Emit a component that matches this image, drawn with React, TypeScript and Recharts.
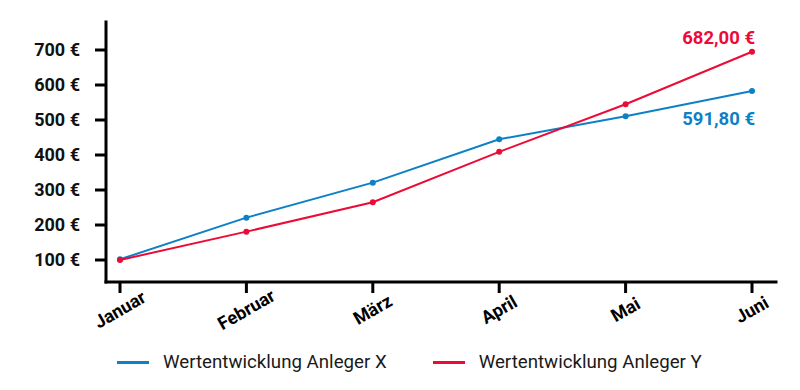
import { LineChart, Line, XAxis, YAxis, Legend, LabelList } from "recharts";

const months = ["Januar", "Februar", "März", "April", "Mai", "Juni"];
const anlegerX = [102, 221, 321, 445, 511, 583];
const anlegerY = [100, 181, 265, 409, 545, 695];
const yTicks = [100, 200, 300, 400, 500, 600, 700];
const endLabelX = "591,80 €";
const endLabelY = "682,00 €";

const BLUE = "#0d80c6";
const RED = "#ec0b36";
const FONT = "Roboto, 'Noto Sans', sans-serif";

const data = months.map((m, i) => ({ month: m, x: anlegerX[i], y: anlegerY[i] }));

const XTick = ({ x, y, payload }: any) => {
  const ax = x + 3;
  const ay = y + 20;
  return (
    <text
      x={ax}
      y={ay}
      transform={`rotate(-30, ${ax}, ${ay})`}
      textAnchor="middle"
      fontFamily={FONT}
      fontWeight={700}
      fontSize={18}
      fill="#000"
    >
      {payload.value}
    </text>
  );
};

const endLabel = (text: string, color: string, dy: number) => (props: any) => {
  const { x, y, index } = props;
  if (index !== months.length - 1) return null;
  return (
    <text
      x={x + 3}
      y={y + dy}
      textAnchor="end"
      fontFamily={FONT}
      fontWeight={700}
      fontSize={18.5}
      fill={color}
    >
      {text}
    </text>
  );
};

const LegendContent = () => (
  <div
    style={{
      height: 40,
      display: "flex",
      alignItems: "center",
      paddingLeft: 117,
      gap: 46,
      fontFamily: FONT,
      fontSize: 18.7,
      color: "#1a1a1a",
    }}
  >
    {[
      { name: "Wertentwicklung Anleger X", color: BLUE },
      { name: "Wertentwicklung Anleger Y", color: RED },
    ].map((item) => (
      <div key={item.name} style={{ display: "flex", alignItems: "center" }}>
        <span style={{ width: 32, height: 3, background: item.color, marginRight: 14 }} />
        <span>{item.name}</span>
      </div>
    ))}
  </div>
);

export default function App() {
  return (
    <div style={{ position: "absolute", left: 0, top: 0, background: "#fff" }}>
      <LineChart
        width={800}
        height={390}
        data={data}
        margin={{ top: 22, right: 24, left: 0, bottom: 8 }}
      >
        <XAxis
          dataKey="month"
          padding={{ left: 14, right: 24 }}
          height={60}
          tickSize={11}
          axisLine={{ stroke: "#000", strokeWidth: 3, strokeLinecap: "square" }}
          tickLine={{ stroke: "#000", strokeWidth: 3 }}
          tick={<XTick />}
          interval={0}
        />
        <YAxis
          width={106}
          domain={[37.14, 780]}
          ticks={yTicks}
          tickSize={11}
          tickMargin={15}
          tickFormatter={(v: number) => `${v} €`}
          axisLine={{ stroke: "#000", strokeWidth: 3, strokeLinecap: "square" }}
          tickLine={{ stroke: "#000", strokeWidth: 3 }}
          tick={{ fill: "#111", fontSize: 18, fontWeight: 700, fontFamily: FONT }}
        />
        <Legend verticalAlign="bottom" content={<LegendContent />} />
        <Line
          type="linear"
          dataKey="x"
          stroke={BLUE}
          strokeWidth={2}
          dot={{ r: 3, fill: BLUE, stroke: BLUE, strokeWidth: 0 }}
          activeDot={false}
          isAnimationActive={false}
        >
          <LabelList dataKey="x" content={endLabel(endLabelX, BLUE, 34)} />
        </Line>
        <Line
          type="linear"
          dataKey="y"
          stroke={RED}
          strokeWidth={2}
          dot={{ r: 3, fill: RED, stroke: RED, strokeWidth: 0 }}
          activeDot={false}
          isAnimationActive={false}
        >
          <LabelList dataKey="y" content={endLabel(endLabelY, RED, -8)} />
        </Line>
      </LineChart>
    </div>
  );
}
